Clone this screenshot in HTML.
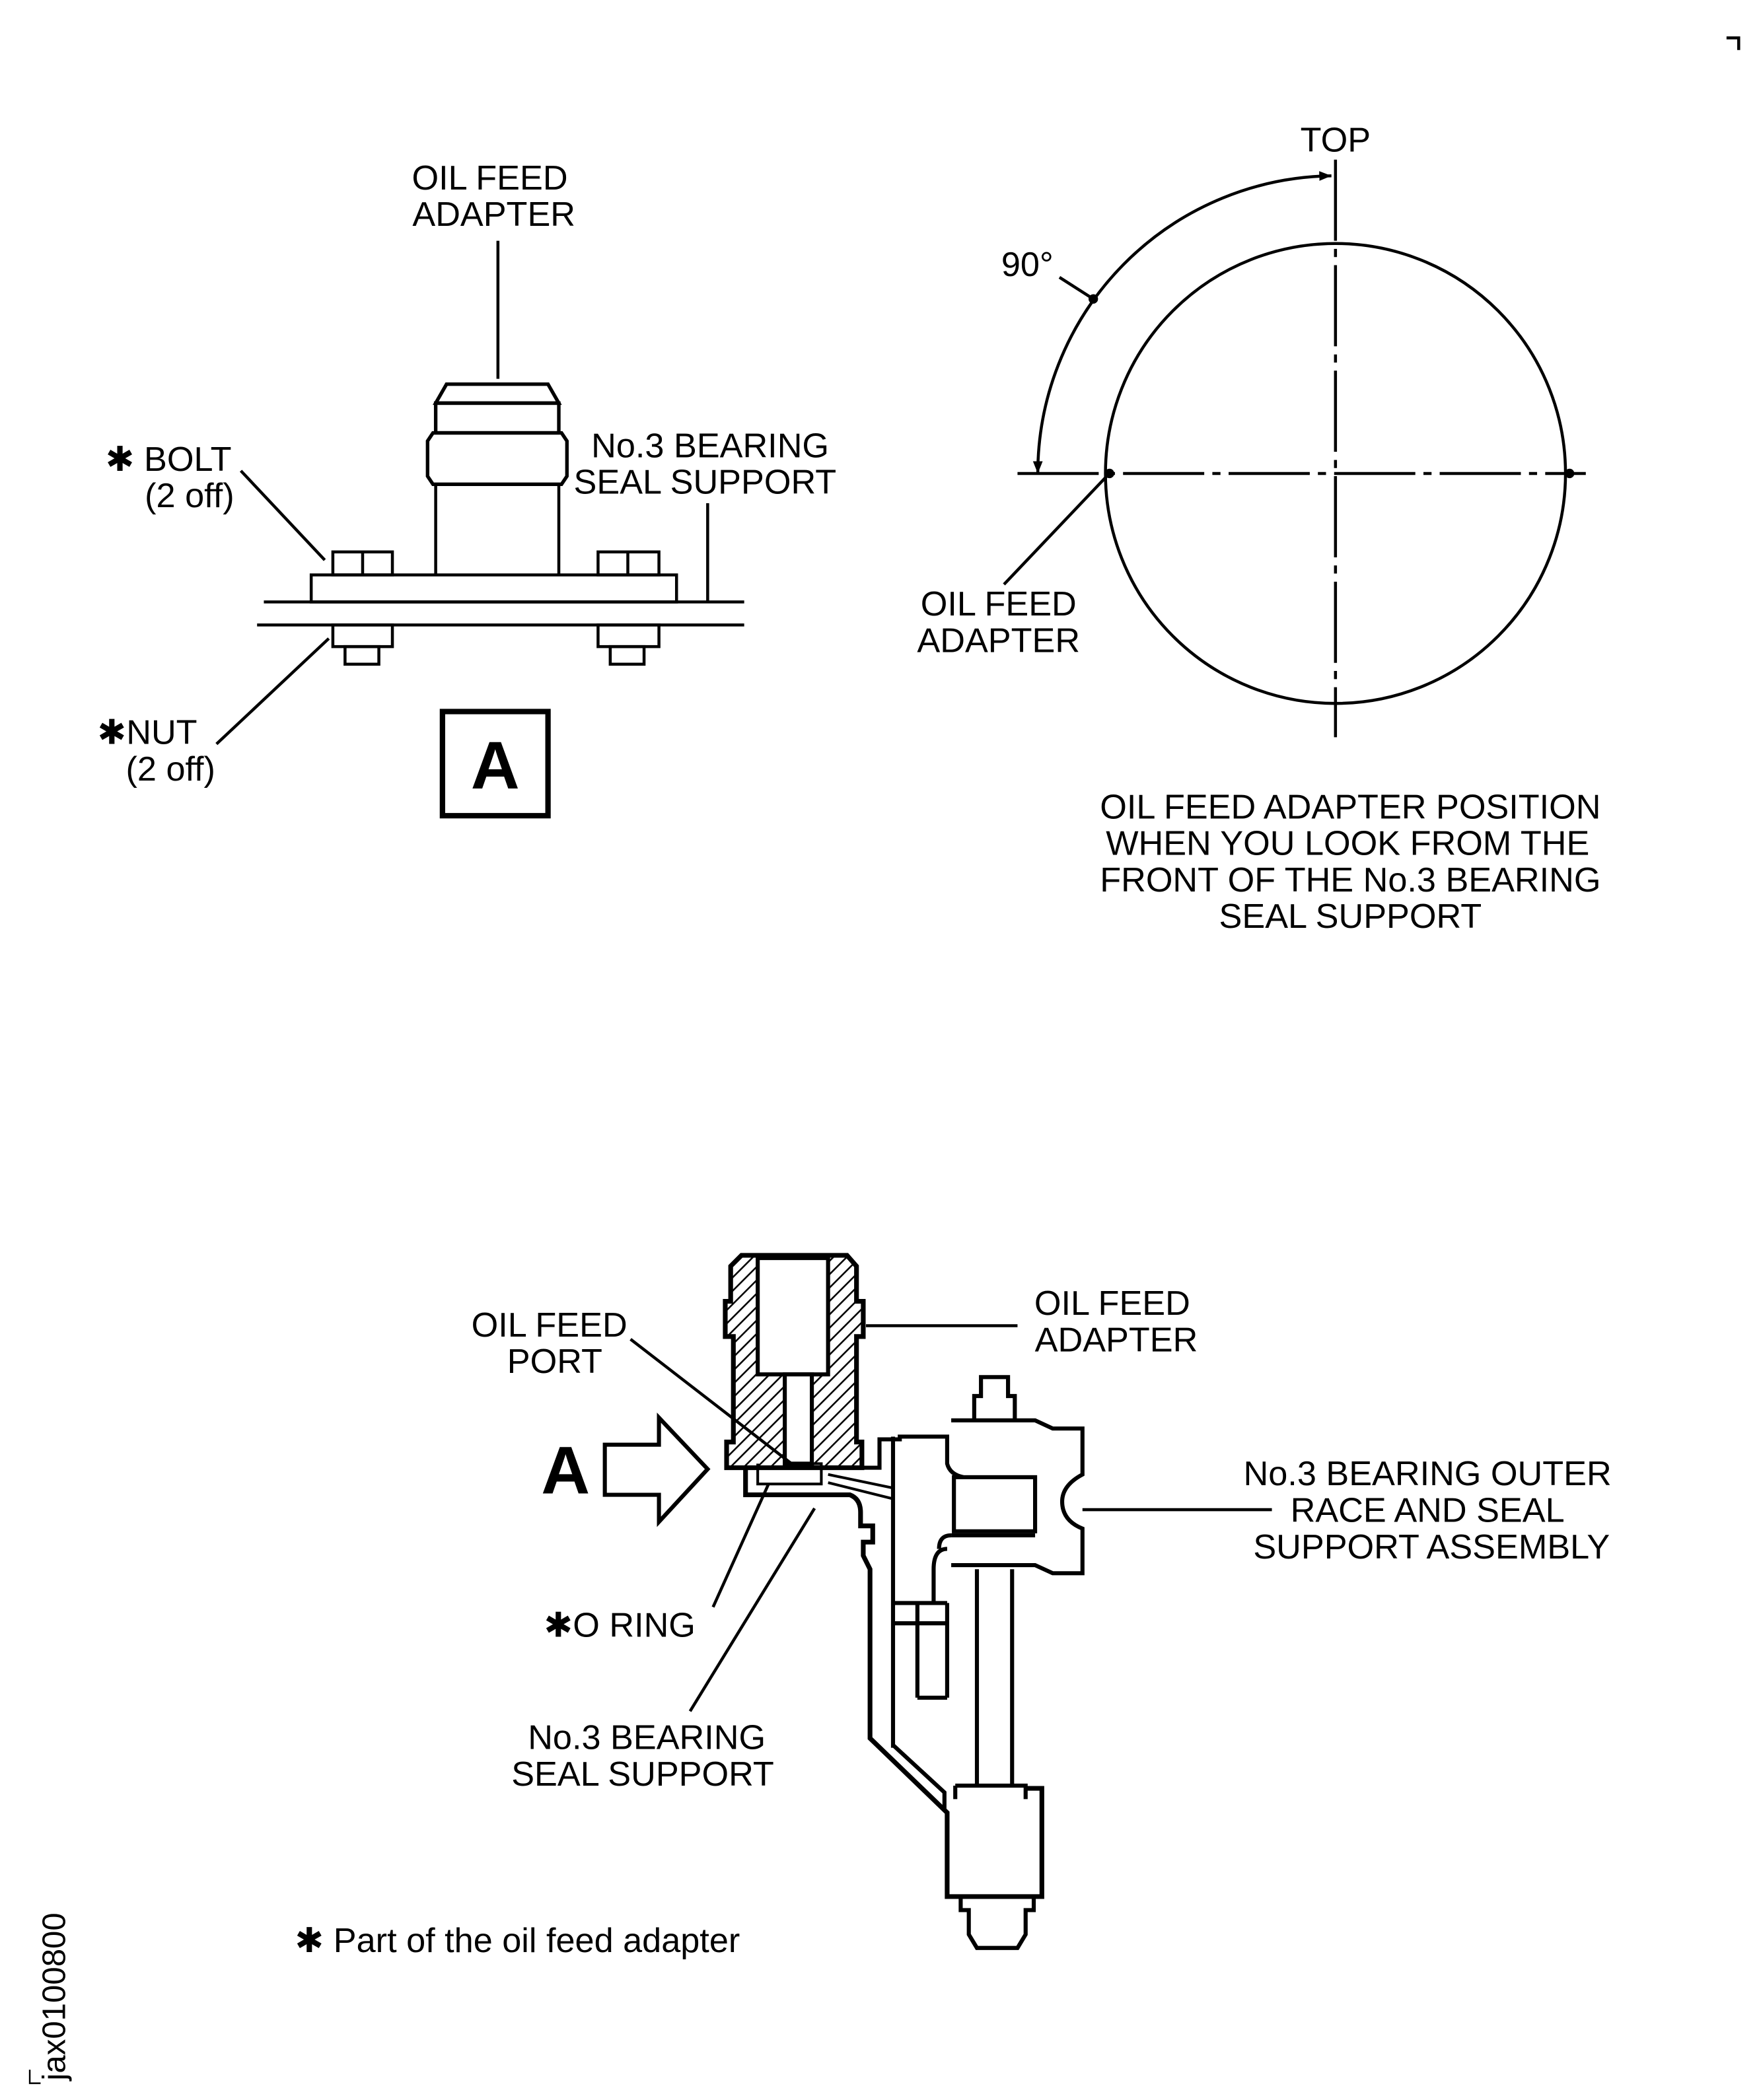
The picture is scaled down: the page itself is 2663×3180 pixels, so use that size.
<!DOCTYPE html>
<html><head><meta charset="utf-8"><style>
html,body{margin:0;padding:0;background:#fff}
svg{display:block}
text{font-family:"Liberation Sans",sans-serif;fill:#000}
</style></head><body>
<svg width="2663" height="3180" viewBox="0 0 1300 1552.4" preserveAspectRatio="none" xmlns="http://www.w3.org/2000/svg">
<defs>
<pattern id="h" width="7" height="7" patternUnits="userSpaceOnUse" patternTransform="rotate(45)">
<rect width="7" height="7" fill="#fff"/><line x1="0" y1="0" x2="0" y2="7" stroke="#000" stroke-width="2.5"/>
</pattern>
<marker id="ar" viewBox="0 0 10 10" refX="10" refY="5" markerWidth="9" markerHeight="9" orient="auto-start-reverse" markerUnits="userSpaceOnUse">
<path d="M0,1 L10,5 L0,9 z" fill="#000"/></marker>
</defs>
<g fill="none" stroke="#000" stroke-width="2.2">
<path d="M1276,28 H1285 V37"/>
<path d="M22,1530 V1540 H30" stroke-width="1.2"/>

<line x1="368" y1="178" x2="368" y2="280"/>
<path d="M330,284 H405 L413,298 H322 Z" stroke-width="2.6"/>
<rect x="322" y="298" width="91" height="22" stroke-width="2.6"/>
<path d="M320,320 H415 L419,326 V352 L415,358 H320 L316,352 V326 Z" stroke-width="2.6"/>
<path d="M322,358 V425 M413,358 V425"/>
<rect x="230" y="425" width="270" height="20"/>
<line x1="195" y1="445" x2="550" y2="445"/>
<line x1="190" y1="462" x2="550" y2="462"/>
<line x1="523" y1="372" x2="523" y2="445"/>
<rect x="246" y="408" width="44" height="17"/><line x1="268" y1="408" x2="268" y2="425"/>
<rect x="442" y="408" width="45" height="17"/><line x1="464" y1="408" x2="464" y2="425"/>
<rect x="246" y="462" width="44" height="16"/><rect x="255" y="478" width="25" height="13"/>
<rect x="442" y="462" width="45" height="16"/><rect x="451" y="478" width="25" height="13"/>
<line x1="178" y1="348" x2="240" y2="414"/>
<line x1="160" y1="550" x2="243" y2="472"/>
<rect x="327" y="526" width="78" height="77" stroke-width="4"/>

<circle cx="987" cy="350" r="170"/>
<line x1="752" y1="350" x2="1172" y2="350" stroke-dasharray="60,6,6,6"/>
<line x1="987" y1="118" x2="987" y2="545" stroke-dasharray="60,6,6,6"/>
<path d="M984,130 A220,220 0 0,0 767,350" marker-start="url(#ar)" marker-end="url(#ar)"/>
<line x1="783" y1="205" x2="808" y2="221"/>
<line x1="742" y1="432" x2="818" y2="352"/>
</g>
<g fill="none" stroke="#000" stroke-width="3">
<path d="M548,928 H626 L633,936 V962 H638 V988 H633 V1066 H637 V1085 H537 V1066 H542 V988 H536 V962 H540 V936 Z" fill="url(#h)" stroke-width="3.5"/>
<rect x="560" y="930" width="52" height="86" fill="#fff" stroke-width="3"/>
<rect x="580" y="1016" width="20" height="66" fill="#fff" stroke-width="3"/>
<path d="M551,1085 V1105 H628 Q636,1108 636,1118 V1128 H645 V1140 H638 V1150 L643,1160 V1285 L700,1340 V1402 H770 V1322 H758" stroke-width="3.5"/>
<path d="M637,1085 H650 V1064 H665 V1062 H700 V1082 Q702,1090 712,1092"/>
<path d="M720,1050 V1032 H725 V1018 H745 V1032 H750 V1050"/>
<path d="M703,1050 H765 L778,1056 H800 V1090 Q785,1098 785,1110 Q785,1124 800,1130 V1163 H778 L765,1157 H703"/>
<rect x="705" y="1092" width="60" height="40"/>
<path d="M703,1135 H765"/>
<path d="M700,1145 Q690,1145 690,1160 V1185 M703,1135 Q694,1135 694,1145"/>
<path d="M722,1160 V1320 M748,1160 V1320"/>
<path d="M706,1320 H758 V1330 M706,1320 V1330"/>
<path d="M710,1402 V1412 H716 V1430 L722,1440 H752 L758,1430 V1412 H764 V1402"/>
<path d="M660,1062 V1292"/>
<path d="M660,1185 H700 M660,1200 H700 M678,1185 V1255 M700,1185 V1255 M678,1255 H700"/>
<path d="M660,1290 L698,1325 V1338"/>
<path d="M612,1090 L660,1100 M612,1096 L660,1108" stroke-width="2"/>
<path d="M600,1082 H607 V1097 H560 V1082" stroke-width="2"/>
<path d="M447,1068 H487 V1048 L523,1086 L487,1125 V1105 H447 Z" stroke-width="3"/>
</g>
<g fill="none" stroke="#000" stroke-width="2.2">
<line x1="466" y1="990" x2="585" y2="1082"/>
<line x1="640" y1="980" x2="752" y2="980"/>
<line x1="800" y1="1116" x2="940" y2="1116"/>
<line x1="527" y1="1188" x2="568" y2="1097"/>
<line x1="510" y1="1265" x2="602" y2="1115"/>
</g>
<g fill="#000">
<circle cx="808" cy="221" r="3.5"/><circle cx="820" cy="350" r="3.5"/><circle cx="1160" cy="350" r="3.5"/>
</g>
<g font-size="25.5">
<text x="362" y="140" text-anchor="middle">OIL FEED</text>
<text x="365" y="167" text-anchor="middle">ADAPTER</text>
<text x="78" y="348">✱ BOLT</text>
<text x="107" y="375">(2 off)</text>
<text x="437" y="338">No.3 BEARING</text>
<text x="424" y="365">SEAL SUPPORT</text>
<text x="72" y="550">✱NUT</text>
<text x="93" y="577">(2 off)</text>
<text x="987" y="112" text-anchor="middle">TOP</text>
<text x="740" y="204">90°</text>
<text x="738" y="455" text-anchor="middle">OIL FEED</text>
<text x="738" y="482" text-anchor="middle">ADAPTER</text>
<text x="998" y="605" text-anchor="middle">OIL FEED ADAPTER POSITION</text>
<text x="996" y="632" text-anchor="middle">WHEN YOU LOOK FROM THE</text>
<text x="998" y="659" text-anchor="middle">FRONT OF THE No.3 BEARING</text>
<text x="998" y="686" text-anchor="middle">SEAL SUPPORT</text>
<text x="406" y="988" text-anchor="middle">OIL FEED</text>
<text x="410" y="1015" text-anchor="middle">PORT</text>
<text x="822" y="972" text-anchor="middle">OIL FEED</text>
<text x="825" y="999" text-anchor="middle">ADAPTER</text>
<text x="1055" y="1098" text-anchor="middle">No.3 BEARING OUTER</text>
<text x="1055" y="1125" text-anchor="middle">RACE AND SEAL</text>
<text x="1058" y="1152" text-anchor="middle">SUPPORT ASSEMBLY</text>
<text x="402" y="1210">✱O RING</text>
<text x="478" y="1293" text-anchor="middle">No.3 BEARING</text>
<text x="475" y="1320" text-anchor="middle">SEAL SUPPORT</text>
<text x="218" y="1443">✱ Part of the oil feed adapter</text>
<text x="0" y="0" transform="translate(48,1538) rotate(-90)" font-size="24">jax0100800</text>
</g>
<text x="366" y="583" text-anchor="middle" font-size="50" font-weight="bold">A</text>
<text x="418" y="1104" text-anchor="middle" font-size="50" font-weight="bold">A</text>
</svg>
</body></html>
